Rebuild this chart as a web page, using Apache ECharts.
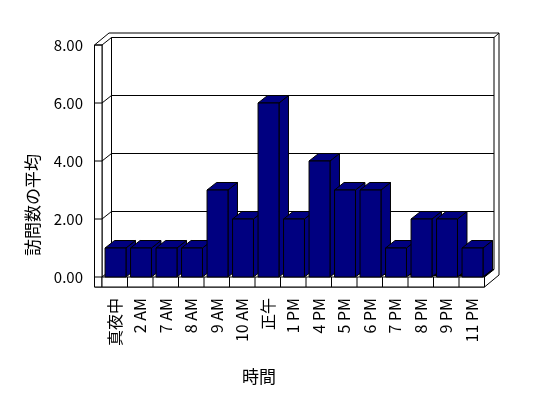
<!DOCTYPE html>
<html><head><meta charset="utf-8">
<script src="https://cdn.jsdelivr.net/npm/echarts@6/dist/echarts.min.js"></script>
<style>html,body{margin:0;padding:0;background:#fff}#c{width:548px;height:398px}</style>
</head><body><div id="c"></div>
<script>
const categories = ['真夜中','2 AM','7 AM','8 AM','9 AM','10 AM','正午','1 PM','4 PM','5 PM','6 PM','7 PM','8 PM','9 PM','11 PM'];
const visits = [1,1,1,1,3,2,6,2,4,3,3,1,2,2,1];
const yTicks = [0,2,4,6,8];
const yTitle = '訪問数の平均';
const xTitle = '時間';

const FONT = "'Noto Sans CJK JP', sans-serif";
const DX = 9.5, DY = -7.5;      // depth
const TX = 5, TY = -4.5;        // back wall thickness
const WW = 7.5;                 // left wall thickness
const FT = 10;                  // floor thickness
const stroke = {stroke:'#000', lineWidth:1, fill:'#fff'};
const line = {stroke:'#000', lineWidth:1};

function frameItem(params, api){
  const bw = api.size([1,0])[0];
  const L = api.coord([0,0])[0] - bw/2;
  const R = api.coord([categories.length-1,0])[0] + bw/2;
  const y0 = api.coord([0,0])[1];
  const yT = api.coord([0,yTicks[yTicks.length-1]])[1];
  const ch = [];
  ch.push({type:'polygon', shape:{points:[[L-WW,y0+FT],[L-WW,yT],[L-WW+DX+TX,yT+DY+TY],[R+DX+TX,yT+DY+TY],[R+DX+TX,y0+FT+DY+TY],[R,y0+FT]]}, style:stroke});
  ch.push({type:'rect', shape:{x:L+DX,y:yT+DY,width:R-L,height:y0-yT}, style:stroke});
  ch.push({type:'line', shape:{x1:R+DX,y1:yT+DY,x2:R+DX+TX,y2:yT+DY+TY}, style:line});
  ch.push({type:'polygon', shape:{points:[[L,yT],[L+DX,yT+DY],[L+DX,y0+DY],[L,y0]]}, style:stroke});
  ch.push({type:'rect', shape:{x:L-WW,y:yT,width:WW,height:y0+FT-yT}, style:stroke});
  ch.push({type:'rect', shape:{x:L,y:y0,width:R-L,height:FT}, style:stroke});
  ch.push({type:'polyline', shape:{points:[[L+DX,y0+DY],[R+DX,y0+DY],[R,y0]]}, style:line});
  yTicks.forEach(v=>{
    const y = api.coord([0,v])[1];
    if (v>0 && v<yTicks[yTicks.length-1]) {
      ch.push({type:'line', shape:{x1:L+DX,y1:y+DY,x2:R+DX,y2:y+DY}, style:line});
      ch.push({type:'line', shape:{x1:L,y1:y,x2:L+DX,y2:y+DY}, style:line});
    }
    ch.push({type:'line', shape:{x1:L-WW,y1:y,x2:L,y2:y}, style:line});
  });
  for (let k=1;k<categories.length;k++){
    const x = L + k*bw;
    ch.push({type:'line', shape:{x1:x,y1:y0,x2:x,y2:y0+FT}, style:line});
  }
  return {type:'group', children:ch};
}

function barItem(params, api){
  const i = api.value(0), v = api.value(1);
  const bw = api.size([1,0])[0];
  const c = api.coord([i,0]);
  const t = api.coord([i,v]);
  const xl = c[0] - bw/2 + bw*0.12, xr = xl + bw*0.82;
  const yb = c[1], yt = t[1];
  const st = {fill:'#000080', stroke:'#000', lineWidth:1};
  return {type:'group', children:[
    {type:'polygon', shape:{points:[[xr,yt],[xr+DX,yt+DY],[xr+DX,yb+DY],[xr,yb]]}, style:st},
    {type:'polygon', shape:{points:[[xl,yt],[xr,yt],[xr+DX,yt+DY],[xl+DX,yt+DY]]}, style:st},
    {type:'rect', shape:{x:xl,y:yt,width:xr-xl,height:yb-yt}, style:st}
  ]};
}

const chart = echarts.init(document.getElementById('c'), null, {renderer:'canvas'});
chart.setOption({
  animation:false,
  backgroundColor:'#fff',
  textStyle:{fontFamily:FONT},
  grid:{left:102, right:63.5, top:45, bottom:121},
  xAxis:{type:'category', data:categories, boundaryGap:true,
    axisLine:{show:false}, axisTick:{show:false}, splitLine:{show:false},
    axisLabel:{rotate:90, margin:21, color:'#000', fontSize:16, fontFamily:FONT, interval:0}},
  yAxis:{type:'value', min:0, max:8, interval:2,
    axisLine:{show:false}, axisTick:{show:false}, splitLine:{show:false},
    axisLabel:{margin:19, color:'#000', fontSize:15, fontFamily:FONT, formatter:v=>v.toFixed(2)}},
  graphic:[
    {type:'text', x:33, y:205, rotation:Math.PI/2, style:{text:yTitle, fill:'#000', font:'17px '+FONT, align:'center', verticalAlign:'middle'}},
    {type:'text', x:259, y:377, style:{text:xTitle, fill:'#000', font:'17px '+FONT, align:'center', verticalAlign:'middle'}}
  ],
  series:[
    {type:'custom', z:1, silent:true, renderItem:frameItem, data:[[0,0]]},
    {type:'custom', z:2, renderItem:barItem, data:visits.map((v,i)=>[i,v])}
  ]
});
</script></body></html>
